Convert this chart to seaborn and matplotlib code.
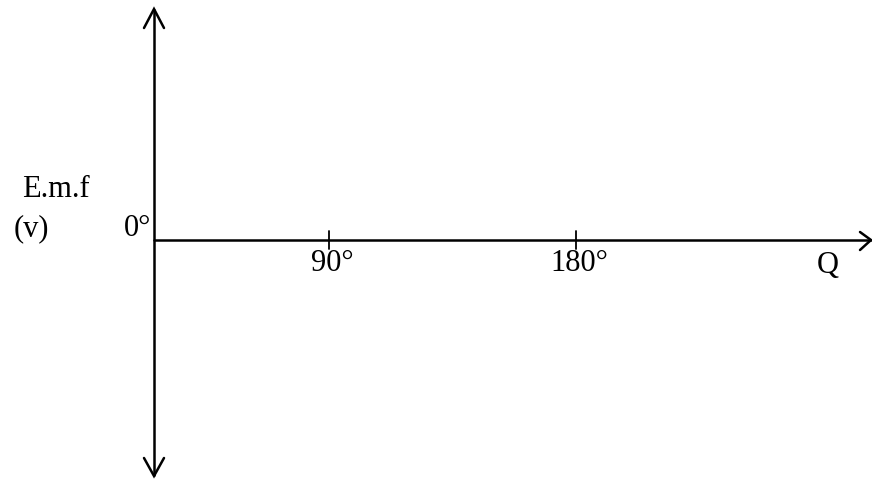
import numpy as np
import pandas as pd
import matplotlib
matplotlib.use("Agg")
import matplotlib.pyplot as plt
import seaborn as sns

# Axis annotations of the e.m.f. versus rotation angle sketch
angle_labels = ["90°", "180°"]
angle_values = [90, 180]
y_axis_title = ["E.m.f", "(v)"]
origin_label = "0°"
x_axis_title = "Q"

sns.set_style("white")
plt.rcParams["font.family"] = ["Liberation Serif", "DejaVu Serif"]

W, H = 872, 479
fig = plt.figure(figsize=(W / 100, H / 100), dpi=100)
ax = fig.add_axes([0, 0, 1, 1])

# The sketch's angle axis is hand-spaced; map degrees onto its drawn positions
ox, oy = 154, 240
def deg_to_x(d):
    return np.interp(d, [0, 90, 180, 360], [ox, 329, 576, 1070])

lw = 1.8
col = "black"

# Tick marks at the labelled angles
ticks = pd.DataFrame({
    "x": np.repeat(deg_to_x(np.array(angle_values)), 2),
    "y": [231, 249] * len(angle_values),
    "angle": np.repeat(angle_values, 2),
})
sns.lineplot(data=ticks, x="x", y="y", units="angle", estimator=None,
             color=col, lw=1.3, ax=ax, legend=False, sort=False)
ax.set_xlim(0, W)
ax.set_ylim(H, 0)
ax.axis("off")

# Vertical (e.m.f.) axis with open arrowheads at both ends
ax.plot([ox, ox], [9, 476], color=col, lw=lw, solid_capstyle="butt")
ax.plot([ox - 10, ox, ox + 10], [28, 9, 28], color=col, lw=lw, solid_joinstyle="miter")
ax.plot([ox - 10, ox, ox + 10], [458, 476, 458], color=col, lw=lw, solid_joinstyle="miter")

# Horizontal (angle) axis with open arrowhead on the right
ax.plot([ox, 871], [oy, oy], color=col, lw=lw)
ax.plot([860, 871, 860], [232, oy, 250], color=col, lw=lw, solid_joinstyle="miter")

fs = 22
for d, lab in zip(angle_values, angle_labels):
    ax.text(deg_to_x(d) + 3, 271, lab, ha="center", va="baseline", fontsize=fs, color=col)

ax.text(828, 273, x_axis_title, ha="center", va="baseline", fontsize=fs, color=col)
ax.text(22, 197, y_axis_title[0], ha="left", va="baseline", fontsize=fs, color=col)
ax.text(14, 236, y_axis_title[1], ha="left", va="baseline", fontsize=fs, color=col)
ax.text(151, 236, origin_label, ha="right", va="baseline", fontsize=fs, color=col)

fig.savefig("out.png", dpi=100, facecolor="white")
